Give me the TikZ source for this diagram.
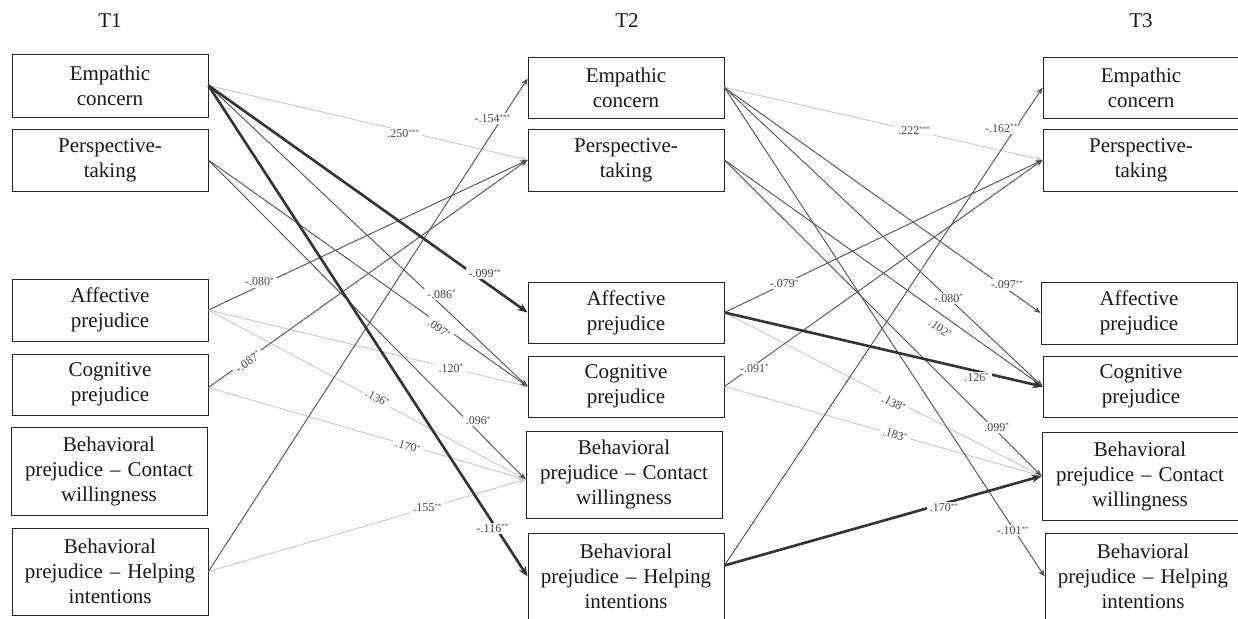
\documentclass[tikz,border=0pt]{standalone}
\usepackage{fontspec}
\setmainfont{Liberation Serif}
\usetikzlibrary{arrows.meta}
\newcommand\st[1]{\raisebox{3.5pt}{\fontsize{7}{7}\selectfont #1}}
\begin{document}
\begin{tikzpicture}[x=1pt,y=-1pt,
  box/.style={draw=black!85, line width=0.8pt, minimum width=196pt, text width=190pt,
    align=center, inner sep=0pt, font=\fontsize{21}{25}\selectfont, text=black!90},
  ttl/.style={font=\fontsize{21}{25}\selectfont, text=black!90},
  dk/.style={draw=black!68, line width=0.9pt, -{Stealth[length=7pt,width=5.5pt]}},
  thk/.style={draw=black!80, line width=2.6pt, -{Stealth[length=10pt,width=8pt]}},
  lt/.style={draw=black!20, line width=1pt, -{Stealth[length=7pt,width=5.5pt]}},
  lab/.style={fill=white, inner xsep=3pt, inner ysep=1.5pt, font=\fontsize{12}{12}\selectfont, text=black!72}]
\clip (0,0) rectangle (1238,618);
\fill[white] (0,0) rectangle (1238,618);
% titles
\node[ttl] (t1) at (110,21) {T1};
\node[ttl] (t2) at (627,21) {T2};
\node[ttl] (t3) at (1141,21) {T3};
% T1
\node[box, minimum height=63pt] (e1) at (110,85.5) {Empathic\\concern};
\node[box, minimum height=62pt] (p1) at (110,160) {Perspective-\\taking};
\node[box, minimum height=62pt] (a1) at (110,310) {Affective\\prejudice};
\node[box, minimum height=61pt] (c1) at (110,384.5) {Cognitive\\prejudice};
\node[box, minimum height=88pt] (b1) at (109,471) {Behavioral\\prejudice -- Contact\\willingness};
\node[box, minimum height=87pt] (h1) at (110,571.5) {Behavioral\\prejudice -- Helping\\intentions};
% T2
\node[box, minimum height=61pt] (e2) at (626,87.5) {Empathic\\concern};
\node[box, minimum height=62pt] (p2) at (626,160) {Perspective-\\taking};
\node[box, minimum height=61pt] (a2) at (626,312.5) {Affective\\prejudice};
\node[box, minimum height=61pt] (c2) at (626,386.5) {Cognitive\\prejudice};
\node[box, minimum height=87pt] (b2) at (624,474.5) {Behavioral\\prejudice -- Contact\\willingness};
\node[box, minimum height=87pt] (h2) at (626,576.5) {Behavioral\\prejudice -- Helping\\intentions};
% T3
\node[box, minimum height=61pt] (e3) at (1141,87.5) {Empathic\\concern};
\node[box, minimum height=62pt] (p3) at (1141,160) {Perspective-\\taking};
\node[box, minimum height=62pt] (a3) at (1139,313) {Affective\\prejudice};
\node[box, minimum height=61pt] (c3) at (1141,386.5) {Cognitive\\prejudice};
\node[box, minimum height=88pt] (b3) at (1140,476) {Behavioral\\prejudice -- Contact\\willingness};
\node[box, minimum height=87pt] (h3) at (1143,576.5) {Behavioral\\prejudice -- Helping\\intentions};
% offset anchors
\coordinate (e2in) at ([yshift=9pt]e2.west);
\coordinate (b2in) at ([yshift=-5pt]b2.west);
\coordinate (h2out) at ([yshift=11pt]h2.east);
\coordinate (c1out) at ([yshift=-3pt]c1.east);
% ---- lines T1 -> T2
\draw[lt] (e1.east) -- (p2.west);
\draw[lt] (a1.east) -- (c2.west);
\draw[lt] (a1.east) -- (b2in);
\draw[lt] (c1out) -- (b2in);
\draw[lt] (h1.east) -- (b2in);
\draw[dk] (e1.east) -- (c2.west);
\draw[dk] (p1.east) -- (c2.west);
\draw[dk] (p1.east) -- (b2in);
\draw[dk] (a1.east) -- (p2.west);
\draw[dk] (c1out) -- (p2.west);
\draw[dk] (h1.east) -- (e2in);
\draw[thk] (e1.east) -- (a2.west);
\draw[thk] (e1.east) -- (h2.west);
% ---- lines T2 -> T3
\draw[lt] (e2.east) -- (p3.west);
\draw[lt] (a2.east) -- (b3.west);
\draw[lt] (c2.east) -- (b3.west);
\draw[dk] (e2.east) -- (a3.west);
\draw[dk] (e2.east) -- (c3.west);
\draw[dk] (e2.east) -- (h3.west);
\draw[dk] (p2.east) -- (c3.west);
\draw[dk] (p2.east) -- (b3.west);
\draw[dk] (a2.east) -- (p3.west);
\draw[dk] (c2.east) -- (p3.west);
\draw[dk] (h2out) -- (e3.west);
\draw[thk] (a2.east) -- (c3.west);
\draw[thk] (h2out) -- (b3.west);
% ---- labels T1 -> T2
\path (e1.east) -- node[lab,pos=.61,yshift=-3pt]{.250\st{***}} (p2.west);
\path (e1.east) -- node[lab,pos=.865,yshift=8pt]{-.099\st{**}} (a2.west);
\path (e1.east) -- node[lab,pos=.73,yshift=11pt]{-.086\st{*}} (c2.west);
\path (e1.east) -- node[lab,pos=.89,yshift=-6pt]{-.116\st{**}} (h2.west);
\path (p1.east) -- node[lab,pos=.73,sloped,yshift=-4pt]{.097\st{*}} (c2.west);
\path (p1.east) -- node[lab,pos=.85,yshift=11pt]{.096\st{*}} (b2in);
\path (a1.east) -- node[lab,pos=.16,yshift=4pt]{-.080\st{*}} (p2.west);
\path (a1.east) -- node[lab,pos=.76]{.120\st{*}} (c2.west);
\path (a1.east) -- node[lab,pos=.53,sloped,yshift=2pt]{.136\st{*}} (b2in);
\path (c1out) -- node[lab,pos=.12,sloped,yshift=-2pt]{-.087\st{*}} (p2.west);
\path (c1out) -- node[lab,pos=.63,sloped,yshift=-1pt]{.170\st{*}} (b2in);
\path (h1.east) -- node[lab,pos=.89,yshift=14pt]{-.154\st{***}} (e2in);
\path (h1.east) -- node[lab,pos=.69]{.155\st{**}} (b2in);
% ---- labels T2 -> T3
\path (e2.east) -- node[lab,pos=.596]{.222\st{***}} (p3.west);
\path (e2.east) -- node[lab,pos=.893,yshift=4pt]{-.097\st{**}} (a3.west);
\path (e2.east) -- node[lab,pos=.705]{-.080\st{*}} (c3.west);
\path (e2.east) -- node[lab,pos=.90,yshift=-3pt]{-.101\st{**}} (h3.west);
\path (p2.east) -- node[lab,pos=.70,sloped,yshift=-12pt]{.102\st{*}} (c3.west);
\path (p2.east) -- node[lab,pos=.858,yshift=4pt]{.099\st{*}} (b3.west);
\path (a2.east) -- node[lab,pos=.188]{-.079\st{*}} (p3.west);
\path (a2.east) -- node[lab,pos=.793,yshift=-6pt]{.126\st{*}} (c3.west);
\path (a2.east) -- node[lab,pos=.538,sloped,yshift=-3pt]{.138\st{*}} (b3.west);
\path (c2.east) -- node[lab,pos=.094,yshift=-3pt]{-.091\st{*}} (p3.west);
\path (c2.east) -- node[lab,pos=.538,sloped]{.183\st{*}} (b3.west);
\path (h2out) -- node[lab,pos=.875,yshift=19pt]{-.162\st{***}} (e3.west);
\path (h2out) -- node[lab,pos=.692,yshift=-4pt]{.170\st{**}} (b3.west);
\end{tikzpicture}
\end{document}
